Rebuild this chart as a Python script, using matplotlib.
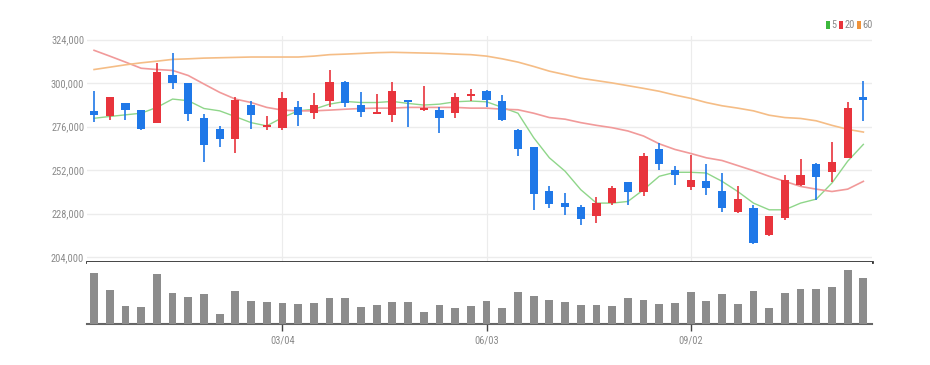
"""Weekly candlestick chart with 5/20/60 moving averages and volume."""

import numpy as np
import matplotlib.pyplot as plt
from matplotlib.patches import Rectangle
from matplotlib import font_manager as fm

# OHLC in won (50 weekly candles)
opens = [284700, 281600, 288800, 284900, 277900, 304700, 299900, 280500, 274900, 269000,
         288100, 276000, 275400, 286600, 283400, 289900, 300500, 287900, 282900, 282500,
         290500, 285100, 285100, 283400, 293100, 295800, 290300, 274000, 264700, 240600,
         233800, 231900, 226900, 233800, 245200, 239900, 263800, 252300, 242500, 246200,
         240200, 229100, 231000, 216200, 225400, 243900, 255600, 250800, 258600, 292100]
highs = [295500, 292500, 289000, 285000, 311200, 316800, 300000, 282900, 276400, 292100,
         290300, 281900, 295300, 290300, 294400, 307000, 301400, 294900, 294000, 300500,
         290500, 298600, 286600, 294400, 296800, 296400, 293400, 274900, 264700, 243400,
         239300, 232800, 237100, 243400, 245200, 261600, 266700, 254500, 260100, 255100,
         250400, 243000, 232800, 226900, 249500, 258400, 256000, 267500, 289700, 301400]
lows = [278800, 279700, 279700, 274200, 277900, 296800, 279000, 256700, 264900, 261600,
        274900, 274200, 274200, 276400, 280100, 286600, 286600, 281400, 282900, 278800,
        276000, 284700, 272700, 280500, 290100, 286900, 279200, 259700, 230100, 231000,
        227300, 221700, 222600, 232800, 232800, 237500, 251900, 243900, 241200, 238400,
        229100, 228200, 211500, 215800, 224500, 243000, 235600, 245200, 258600, 279200]
closes = [282300, 292500, 285100, 274900, 306000, 300100, 283200, 265600, 269300, 290600,
          282500, 276700, 291900, 282500, 287700, 300500, 289000, 284200, 284000, 295800,
          289700, 286200, 281000, 292100, 294000, 290600, 279500, 263400, 238800, 233200,
          231900, 225000, 234100, 242100, 239900, 259700, 255600, 249500, 246700, 242100,
          231000, 236000, 211900, 226900, 246700, 249500, 248000, 256400, 286000, 290600]

# moving averages as drawn on the reference
ma5 = [280600, 281600, 282500, 283400, 286600, 291200, 290300, 286000, 284700, 281500,
       278200, 276400, 281000, 284700, 285600, 288400, 289900, 289300, 289300, 289900,
       288800, 287900, 288400, 289700, 290100, 289700, 286600, 283400, 269900, 258800,
       251400, 241200, 233800, 233800, 234700, 241200, 248600, 250800, 250800, 250400,
       245800, 240200, 233800, 230100, 230100, 233800, 236000, 244900, 256900, 266200]
ma20 = [318100, 314900, 311600, 308200, 307500, 307000, 304200, 299500, 294900, 291200,
        289300, 286600, 285100, 284700, 284700, 285100, 285600, 286000, 286200, 286200,
        286600, 286600, 286600, 286600, 286200, 286200, 285600, 285300, 283400, 281000,
        280100, 278200, 276700, 275400, 273600, 270800, 266500, 263400, 261200, 258800,
        257300, 254500, 251700, 248600, 245800, 243000, 241500, 240200, 241500, 245800]
ma60 = [307500, 308800, 310100, 311200, 312100, 313100, 313400, 313800, 314000, 314200,
        314400, 314400, 314400, 314400, 314900, 315700, 316000, 316400, 316800, 317000,
        316800, 316600, 316400, 316000, 315700, 314900, 313400, 311600, 309200, 306600,
        304700, 302700, 301400, 300100, 298600, 297100, 295500, 293400, 291600, 289300,
        287500, 286200, 284700, 282300, 281000, 280500, 279200, 276700, 274500, 273000]

# volume (thousand shares, relative scale from the picture)
volume = [154, 102, 55, 52, 150, 92, 80, 90, 30, 99,
          70, 65, 62, 60, 64, 79, 77, 52, 57, 65,
          66, 35, 57, 49, 55, 70, 47, 96, 85, 72,
          67, 57, 57, 55, 79, 72, 61, 64, 95, 70,
          90, 60, 100, 49, 92, 104, 104, 112, 161, 139]

tick_pos = [12, 25, 38]
tick_labels = ["03/04", "06/03", "09/02"]
price_ticks = [204000, 228000, 252000, 276000, 300000, 324000]

UP = "#e8343c"
DOWN = "#1f78e8"
GRID = "#ececec"
TXT = "#8a8a8a"

# narrow face if the system has one
installed = {f.name for f in fm.fontManager.ttflist}
narrow = [n for n in ("Liberation Sans Narrow", "DejaVu Sans Condensed", "Roboto Condensed")
          if n in installed]
plt.rcParams["font.family"] = narrow + ["DejaVu Sans"]
plt.rcParams["font.stretch"] = "condensed"
FS = 7.5 if narrow else 7

W, H = 930, 365
fig = plt.figure(figsize=(W / 100, H / 100), dpi=100)

left, right = 87 / W, 872 / W
ax = fig.add_axes([left, 1 - 262 / H, right - left, (262 - 36) / H])
axv = fig.add_axes([left, 1 - 324 / H, right - left, (324 - 262) / H], sharex=ax)

x = np.arange(len(opens))
o = np.array(opens)
c = np.array(closes)
up = c >= o
colors = np.where(up, UP, DOWN)

ax.vlines(x, lows, highs, colors=colors, linewidth=1.2, zorder=3)
body_bottom = np.minimum(o, c)
body_h = np.maximum(np.abs(c - o), 700)
ax.bar(x, body_h, bottom=body_bottom, width=0.52, color=colors, zorder=4)

ax.plot(x, ma5, color="#8fd68a", linewidth=1.0, zorder=2)
ax.plot(x, ma20, color="#f19a9a", linewidth=1.2, zorder=2)
ax.plot(x, ma60, color="#f5bd86", linewidth=1.2, zorder=2)

ax.set_xlim(-0.45, 49.55)
ax.set_ylim(201300, 326000)
ax.set_yticks(price_ticks)
ax.set_yticklabels([f"{v:,}" for v in price_ticks], color=TXT, fontsize=FS)
ax.grid(True, axis="y", color=GRID, linewidth=1.0)
for p in tick_pos:
    ax.axvline(p, color=GRID, linewidth=0.8, zorder=0)
ax.tick_params(axis="y", length=0, pad=2)
ax.tick_params(axis="x", length=0, labelbottom=False)
for s in ("top", "right", "left"):
    ax.spines[s].set_visible(False)
ax.spines["bottom"].set_color("#333333")
ax.spines["bottom"].set_linewidth(2.0)

axv.bar(x, volume, width=0.5, color="#8c8c8c", zorder=3)
axv.set_ylim(0, 186)
axv.set_yticks([])
axv.set_xticks(tick_pos)
axv.set_xticklabels(tick_labels, color=TXT, fontsize=FS)
axv.tick_params(axis="x", length=5, width=1, color="#444444", pad=3)
for s in ("top", "right", "left"):
    axv.spines[s].set_visible(False)
axv.spines["bottom"].set_color("#666666")
axv.spines["bottom"].set_linewidth(1.5)

# small legend in the top-right corner
legend_items = [("5", "#3cb83c", 826), ("20", "#e8343c", 839), ("60", "#f0933a", 857)]
for label, col, px in legend_items:
    fig.add_artist(Rectangle((px / W, 1 - 29 / H), 4 / W, 8 / H,
                             transform=fig.transFigure, color=col, lw=0))
    fig.text((px + 5.5) / W, 1 - 25 / H, label, color=TXT, fontsize=FS,
             va="center", ha="left")

fig.savefig("out.png", dpi=100, facecolor="white")
